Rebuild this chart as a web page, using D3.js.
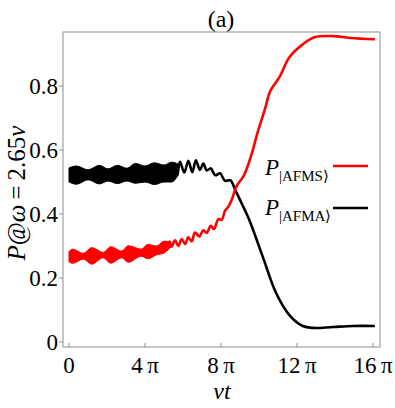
<!DOCTYPE html>
<html>
<head>
<meta charset="utf-8">
<script src="https://cdn.jsdelivr.net/npm/d3@7"></script>
<style>
  body { margin: 0; background: #fff; }
</style>
</head>
<body>
<svg id="chart" width="395" height="408"></svg>
<script>
// time in units of pi, probability values
const xTicks = [0, 4, 8, 12, 16];
const xTickLabels = ["0", "4\u2009\u03c0", "8\u2009\u03c0", "12\u2009\u03c0", "16\u2009\u03c0"];
const yTicks = [0, 0.2, 0.4, 0.6, 0.8];
const yTickLabels = ["0", "0.2", "0.4", "0.6", "0.8"];

// fast oscillating part, given as envelope (low / high)
const blackBandT  = [0, 0.4, 1.0, 1.6, 2.05, 2.55, 3.05, 3.5, 4.0, 4.5, 5.0, 5.4, 5.75];
const blackBandHi = [0.544, 0.550, 0.538, 0.552, 0.541, 0.552, 0.543, 0.558, 0.550, 0.560, 0.553, 0.562, 0.556];
const blackBandLo = [0.500, 0.493, 0.507, 0.494, 0.503, 0.495, 0.503, 0.496, 0.500, 0.492, 0.500, 0.500, 0.522];

const redBandT  = [0, 0.2, 0.75, 1.2, 1.8, 2.2, 2.77, 3.12, 3.8, 4.15, 4.6, 5.0, 5.35];
const redBandHi = [0.283, 0.290, 0.277, 0.295, 0.280, 0.298, 0.284, 0.301, 0.290, 0.305, 0.300, 0.315, 0.314];
const redBandLo = [0.250, 0.246, 0.259, 0.243, 0.263, 0.246, 0.263, 0.249, 0.268, 0.260, 0.272, 0.278, 0.296];

// slower part, drawn as a line
const blackLineT = [5.45, 5.58, 5.7, 5.84, 6.07, 6.28, 6.49, 6.68, 6.89, 7.07, 7.25, 7.46, 7.70, 7.95, 8.21, 8.5, 8.75, 9.0, 9.5, 10.2, 10.9, 11.6, 12.3, 12.85, 13.9, 14.95, 16.1];
const blackLineV = [0.528, 0.556, 0.522, 0.563, 0.530, 0.566, 0.531, 0.568, 0.538, 0.558, 0.536, 0.543, 0.521, 0.527, 0.504, 0.505, 0.475, 0.444, 0.380, 0.266, 0.153, 0.084, 0.050, 0.044, 0.047, 0.050, 0.050];

const redLineT = [5.2, 5.30, 5.40, 5.58, 5.75, 5.93, 6.11, 6.28, 6.46, 6.63, 6.86, 7.07, 7.25, 7.46, 7.63, 7.86, 8.04, 8.21, 8.39, 8.6, 8.8, 9.2, 9.6, 9.95, 10.3, 10.6, 11.1, 11.6, 12.3, 12.95, 13.9, 14.8, 16.1];
const redLineV = [0.292, 0.314, 0.298, 0.318, 0.300, 0.322, 0.306, 0.327, 0.314, 0.342, 0.330, 0.349, 0.341, 0.363, 0.353, 0.384, 0.382, 0.410, 0.423, 0.450, 0.485, 0.520, 0.585, 0.660, 0.725, 0.785, 0.830, 0.890, 0.930, 0.953, 0.956, 0.950, 0.946, 0.944];

const legendNames = ["AFMS", "AFMA"];
const legendColors = ["#ff0000", "#000000"];

const svg = d3.select("#chart")
  .attr("font-family", "Liberation Serif");
const frameColor = "#8e8e8e";

const x = d3.scaleLinear().domain([0, 16]).range([69, 373]);
const y = d3.scaleLinear().domain([0, 1]).range([342, 22]);

const frameL = 63, frameR = 380, frameT = 32, frameB = 347;

// frame
svg.append("rect")
  .attr("x", frameL).attr("y", frameT)
  .attr("width", frameR - frameL).attr("height", frameB - frameT)
  .attr("fill", "none")
  .attr("stroke", frameColor)
  .attr("stroke-width", 1);

// y ticks (outside)
const yAxis = svg.append("g");
yAxis.selectAll("line")
  .data(yTicks)
  .enter()
  .append("line")
  .attr("x1", frameL - 4).attr("x2", frameL)
  .attr("y1", d => y(d)).attr("y2", d => y(d))
  .attr("stroke", frameColor);
yAxis.selectAll("text")
  .data(yTicks)
  .enter()
  .append("text")
  .attr("x", frameL - 5)
  .attr("y", d => y(d) + 8)
  .attr("text-anchor", "end")
  .attr("font-size", 23)
  .text((d, i) => yTickLabels[i]);

// x ticks (inside)
const xAxis = svg.append("g");
xAxis.selectAll("line")
  .data(xTicks)
  .enter()
  .append("line")
  .attr("x1", d => x(d)).attr("x2", d => x(d))
  .attr("y1", frameB - 4).attr("y2", frameB)
  .attr("stroke", frameColor);
xAxis.selectAll("text")
  .data(xTicks)
  .enter()
  .append("text")
  .attr("x", d => x(d))
  .attr("y", 373)
  .attr("text-anchor", "middle")
  .attr("font-size", 23)
  .text((d, i) => xTickLabels[i]);

// curves
const plot = svg.append("g");

const band = (ts, lo, hi, color) => {
  const rows = ts.map((t, i) => ({ t: t, lo: lo[i], hi: hi[i] }));
  plot.append("path")
    .datum(rows)
    .attr("fill", color)
    .attr("stroke", color)
    .attr("stroke-width", 1)
    .attr("d", d3.area()
      .curve(d3.curveMonotoneX)
      .x(d => x(d.t))
      .y0(d => y(d.lo))
      .y1(d => y(d.hi)));
};

const curve = (ts, vs, color) => {
  plot.append("path")
    .datum(ts.map((t, i) => [t, vs[i]]))
    .attr("fill", "none")
    .attr("stroke", color)
    .attr("stroke-width", 2.6)
    .attr("stroke-linejoin", "round")
    .attr("d", d3.line()
      .curve(d3.curveCatmullRom)
      .x(d => x(d[0]))
      .y(d => y(d[1])));
};

band(blackBandT, blackBandLo, blackBandHi, "#000");
curve(blackLineT, blackLineV, "#000");
band(redBandT, redBandLo, redBandHi, "#ff0000");
curve(redLineT, redLineV, "#ff0000");

// title and axis labels
svg.append("text")
  .attr("x", 221).attr("y", 27)
  .attr("text-anchor", "middle")
  .attr("font-size", 24)
  .text("(a)");

svg.append("text")
  .attr("x", 222).attr("y", 399)
  .attr("text-anchor", "middle")
  .attr("font-size", 24)
  .attr("font-style", "italic")
  .text("\u03bdt");

const ylab = svg.append("text")
  .attr("transform", "translate(25,193) rotate(-90)")
  .attr("text-anchor", "middle")
  .attr("font-size", 25);
ylab.append("tspan").attr("font-style", "italic").text("P");
ylab.append("tspan").text("@");
ylab.append("tspan").attr("font-style", "italic").text("\u03c9");
ylab.append("tspan").text("\u2009=\u20092.65");
ylab.append("tspan").attr("font-style", "italic").text("\u03bd");

// legend
const legend = svg.append("g");
const rows = legend.selectAll("g")
  .data(legendNames)
  .enter()
  .append("g")
  .attr("transform", (d, i) => `translate(0,${175 + i * 40})`);

rows.append("text")
  .attr("x", 265).attr("y", 0)
  .attr("font-size", 23)
  .attr("font-style", "italic")
  .text("P");
rows.append("text")
  .attr("x", 279).attr("y", 6)
  .attr("font-size", 15)
  .text(d => "|" + d + "\u27e9");
rows.append("line")
  .attr("x1", 333).attr("x2", 368)
  .attr("y1", (d, i) => i === 0 ? -9 : -7)
  .attr("y2", (d, i) => i === 0 ? -9 : -7)
  .attr("stroke", (d, i) => legendColors[i])
  .attr("stroke-width", 2.6);
</script>
</body>
</html>
